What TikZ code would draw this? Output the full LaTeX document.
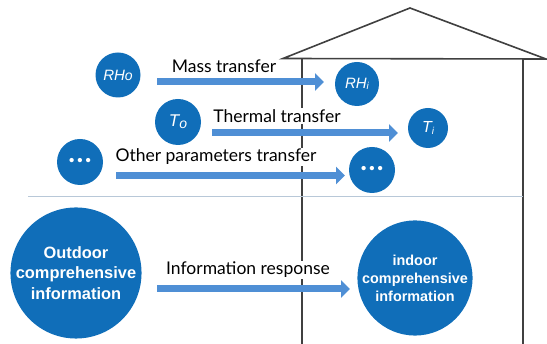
\documentclass[tikz,border=0pt]{standalone}
\usepackage{fontspec}
\setmainfont{Lato}
\newfontfamily\arialf{Liberation Sans}
\usetikzlibrary{arrows.meta}
\definecolor{circblue}{HTML}{106EB9}
\definecolor{arrblue}{HTML}{4F8FD5}
\definecolor{housegray}{HTML}{404040}
\definecolor{divgray}{HTML}{B8C8D8}
\tikzset{
  bubble/.style={circle, fill=circblue, text=white, inner sep=0pt, font=\arialf},
  housestroke/.style={draw=housegray, line width=1.6pt, line join=miter},
  bigarrow/.style={draw=arrblue, line width=7pt, -{Triangle[length=9pt,width=17pt]}},
  lab/.style={fill=white, inner sep=1pt, font=\fontsize{17.5}{19}\selectfont, text=black},
}
\begin{document}
\begin{tikzpicture}[x=1pt,y=-1pt]
\useasboundingbox (0,0) rectangle (547,344);
% house
\coordinate (roofL) at (283,58.5);
\coordinate (roofT) at (410,8);
\coordinate (roofR) at (546,59);
\coordinate (wallLt) at (302,58.5);
\coordinate (wallLb) at (302,344);
\coordinate (wallRt) at (523,59);
\coordinate (wallRb) at (523,344);
\draw[housestroke] (roofL) -- (roofT) -- (roofR) -- cycle;
\draw[housestroke] (wallLt) -- (wallLb);
\draw[housestroke] (wallRt) -- (wallRb);
% divider
\coordinate (divL) at (28,196);
\coordinate (divR) at (523,196);
\draw[divgray, line width=0.8pt] (divL) -- (divR);
% labels
\node[lab] (lmass) at (224,66) {Mass transfer};
\node[lab] (ltherm) at (277,116) {Thermal transfer};
\node[lab] (lother) at (216,157) {Other parameters transfer};
\node[lab] (linfo) at (248,270) {Information response};
% bubbles
\node[bubble, minimum size=45pt, font=\arialf\itshape\fontsize{15}{17}\selectfont] (rho) at (118,75) {RH{\fontsize{14}{15}\selectfont o}};
\node[bubble, minimum size=44pt, font=\arialf\itshape\fontsize{15}{17}\selectfont] (rhi) at (357,84) {RH\raisebox{-1pt}{\fontsize{10}{11}\selectfont i}};
\node[bubble, minimum size=46pt, font=\arialf\itshape\fontsize{17}{19}\selectfont] (to) at (178,122) {T\raisebox{-2pt}{\fontsize{14}{15}\selectfont o}};
\node[bubble, minimum size=40pt, font=\arialf\itshape\fontsize{16}{18}\selectfont] (ti) at (428,128) {T\raisebox{-1.5pt}{\fontsize{10}{11}\selectfont i}};
\node[bubble, minimum size=46pt, font=\arialf\bfseries\fontsize{15}{17}\selectfont] (dotsl) at (80,162) {•\hspace{3pt}•\hspace{3pt}•};
\node[bubble, minimum size=46pt, font=\arialf\bfseries\fontsize{15}{17}\selectfont] (dotsr) at (372,170) {•\hspace{3pt}•\hspace{3pt}•};
\node[bubble, minimum size=122pt, align=center, font=\arialf\bfseries\fontsize{16.4}{20.5}\selectfont] (outdoor) at (76,273) {Outdoor\\comprehensive\\information};
\node[bubble, minimum size=111pt, align=center, font=\arialf\bfseries\fontsize{14.4}{18}\selectfont] (indoor) at (415,278) {indoor\\comprehensive\\information};
% arrows
\coordinate (m1) at (157,82);  \coordinate (m2) at (324,82);
\coordinate (t1) at (212,133); \coordinate (t2) at (398,133);
\coordinate (o1) at (116,175.5); \coordinate (o2) at (345,175.5);
\coordinate (i1) at (157,289); \coordinate (i2) at (350,289);
\draw[bigarrow] (m1) -- (m2);
\draw[bigarrow] (t1) -- (t2);
\draw[bigarrow] (o1) -- (o2);
\draw[bigarrow] (i1) -- (i2);
\end{tikzpicture}
\end{document}
